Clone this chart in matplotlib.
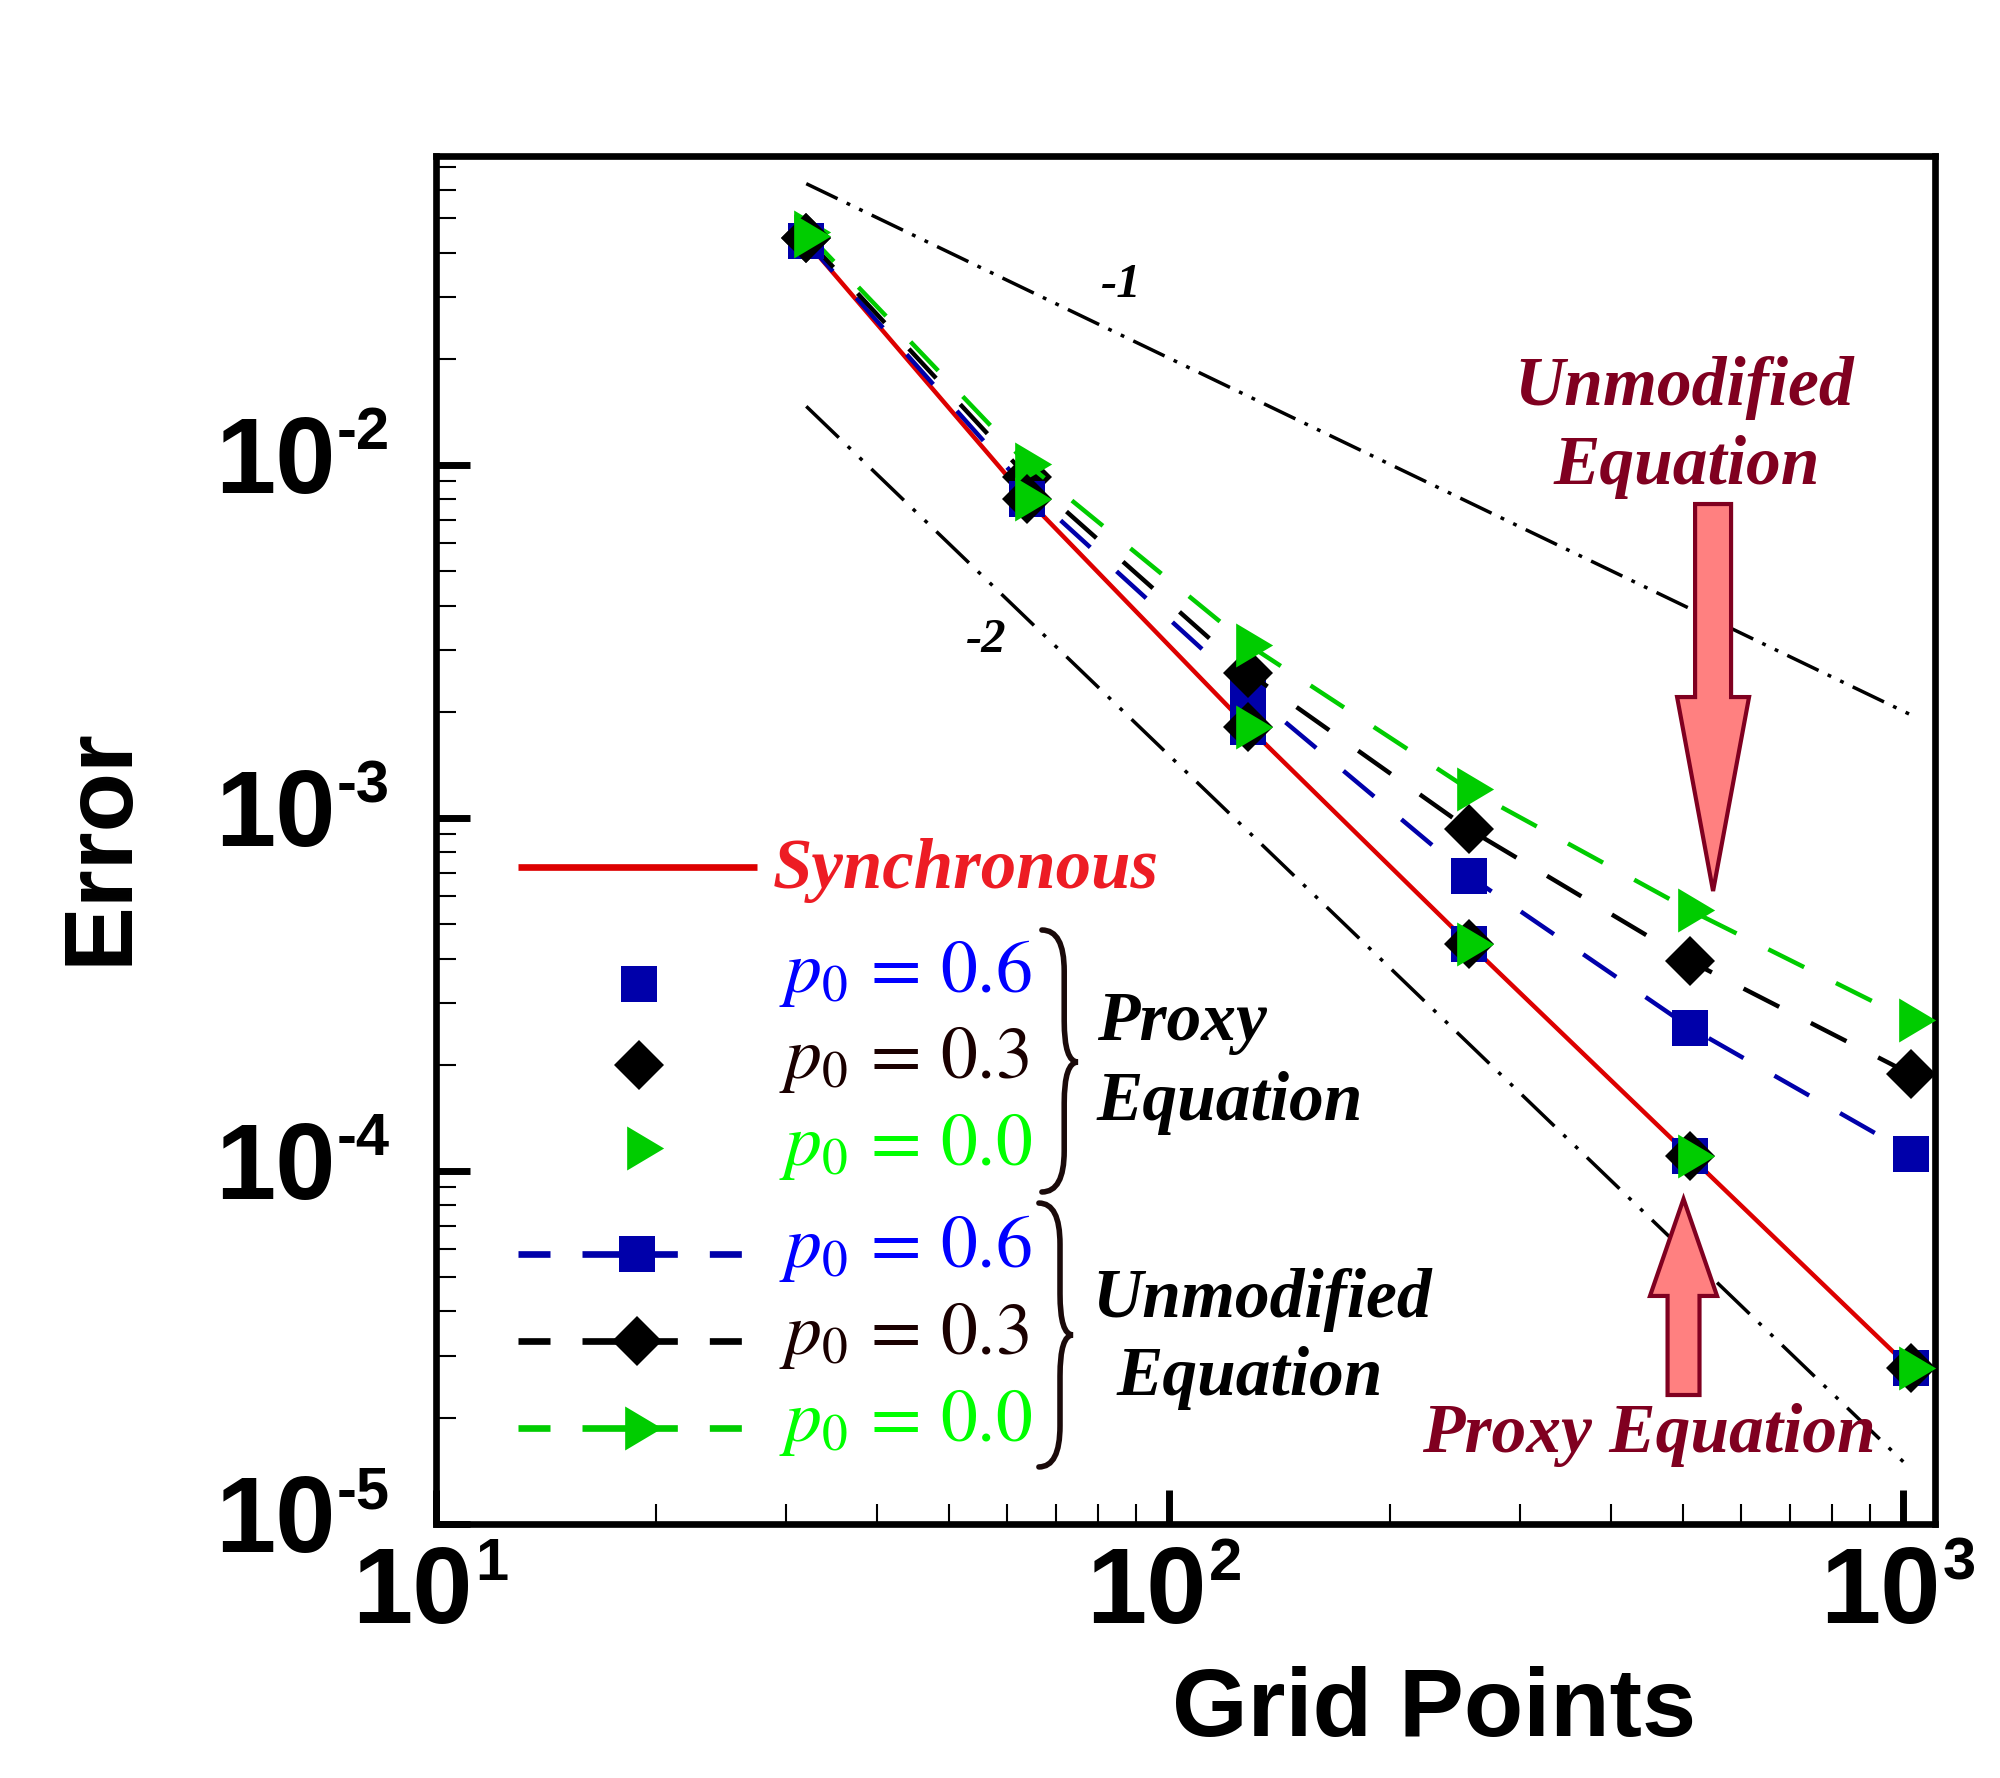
import numpy as np
import matplotlib.pyplot as plt
from matplotlib.patches import FancyArrow, PathPatch
from matplotlib.path import Path
from matplotlib.ticker import LogLocator, NullFormatter

plt.rcParams['mathtext.fontset'] = 'stix'

# ---------------------------------------------------------------- data
grid = [32, 64, 128, 256, 512, 1024]

sync = [0.0430, 0.0080, 0.00181, 4.40e-4, 1.10e-4, 2.75e-5]

proxy_06 = [0.0430, 0.0080, 0.00181, 4.40e-4, 1.10e-4, 2.77e-5]
proxy_03 = [0.0440, 0.0080, 0.00181, 4.40e-4, 1.10e-4, 2.77e-5]
proxy_00 = [0.0445, 0.0080, 0.00181, 4.40e-4, 1.10e-4, 2.77e-5]

unmod_06 = [0.0430, 0.0085, 0.00229, 6.85e-4, 2.55e-4, 1.12e-4]
unmod_03 = [0.0440, 0.00927, 0.00258, 9.29e-4, 3.93e-4, 1.88e-4]
unmod_00 = [0.0456, 0.01007, 0.00310, 1.205e-3, 5.48e-4, 2.67e-4]

slope_x = [32, 1024]
slope1 = [0.0627, 0.00196]
slope2 = [0.01467, 1.43e-5]

xtick_vals = [10, 100, 1000]
xtick_exp = ['1', '2', '3']
ytick_vals = [1e-5, 1e-4, 1e-3, 1e-2]
ytick_exp = ['-5', '-4', '-3', '-2']

p0_labels = [r'$p_0\,=\,0.6$', r'$p_0\,=\,0.3$', r'$p_0\,=\,0.0$']
text_cols = ['#0000ff', '#1a0000', '#00ff00']

# ---------------------------------------------------------------- styles
BLUE = '#0000aa'
GREEN = '#00cc00'
RED = '#dd0000'
MAROON = '#800020'
tri = [(-0.28, -0.5), (0.56, 0.0), (-0.28, 0.5)]
mk = [('s', 25.5, BLUE), ('D', 25.5, 'k'), (tri, 35.5, GREEN)]
serif = dict(family='Liberation Serif', style='italic', weight='bold')
sans = dict(family='Liberation Sans', weight='bold')

fig = plt.figure(figsize=(20, 17.78), dpi=100)
ax = fig.add_axes([0.21775, 0.142857, 0.74975, 0.7694])
ax.set_xscale('log')
ax.set_yscale('log')
ax.set_xlim(10, 1104)
ax.set_ylim(1e-5, 0.0751)

# reference slopes
ax.plot(slope_x, slope1, color='k', lw=2.5,
        dashes=(10, 2.9, 1.1, 2.9, 1.1, 2.9), zorder=1)
ax.plot(slope_x, slope2, color='k', lw=2.5,
        dashes=(13, 3.6, 1.1, 3.6, 1.1, 3.6), zorder=1)
ax.text(0.4573, 0.9057, '-1', transform=ax.transAxes, ha='center', va='center',
        fontsize=35, **serif)
ax.text(0.3672, 0.6462, '-2', transform=ax.transAxes, ha='center', va='center',
        fontsize=35, **serif)

# synchronous
ax.plot(grid, sync, color=RED, lw=3.2, zorder=2)

# unmodified (dashed with markers)
for vals, (m, ms, c) in zip([unmod_06, unmod_03, unmod_00], mk):
    ax.plot(grid, vals, color=c, lw=3.2, dashes=(9, 8), marker=m,
            markersize=ms, markeredgewidth=0, zorder=3)

# proxy (markers only)
for vals, (m, ms, c) in zip([proxy_06, proxy_03, proxy_00], mk):
    ax.plot(grid, vals, ls='none', marker=m, color=c,
            markersize=ms, markeredgewidth=0, zorder=4)

# ---------------------------------------------------------------- axes look
for s in ax.spines.values():
    s.set_linewidth(4.8)
ax.xaxis.set_major_locator(LogLocator(base=10, numticks=10))
ax.yaxis.set_major_locator(LogLocator(base=10, numticks=10))
ax.xaxis.set_minor_locator(LogLocator(base=10, subs=np.arange(2, 10), numticks=20))
ax.yaxis.set_minor_locator(LogLocator(base=10, subs=np.arange(2, 10), numticks=20))
ax.xaxis.set_minor_formatter(NullFormatter())
ax.yaxis.set_minor_formatter(NullFormatter())
ax.tick_params(which='major', direction='in', length=24.5, width=5,
               labelleft=False, labelbottom=False)
ax.tick_params(which='minor', direction='in', length=14.5, width=1.5)

# power-of-ten tick labels, drawn by hand to get the small exponent
for v, e in zip(ytick_vals, ytick_exp):
    ax.annotate('10', xy=(0, v), xycoords=('axes fraction', 'data'),
                xytext=(-72, 0), textcoords='offset points',
                ha='right', va='center', fontsize=78, annotation_clip=False, **sans)
    ax.annotate(e, xy=(0, v), xycoords=('axes fraction', 'data'),
                xytext=(-71, 11.5), textcoords='offset points',
                ha='left', va='baseline', fontsize=43, annotation_clip=False, **sans)
for v, e in zip(xtick_vals, xtick_exp):
    ax.annotate('10', xy=(v, 0), xycoords=('data', 'axes fraction'),
                xytext=(27, -51), textcoords='offset points',
                ha='right', va='center', fontsize=78, annotation_clip=False, **sans)
    ax.annotate(e, xy=(v, 0), xycoords=('data', 'axes fraction'),
                xytext=(28.5, -40), textcoords='offset points',
                ha='left', va='baseline', fontsize=43, annotation_clip=False, **sans)

fig.text(0.051, 0.5242, 'Error', rotation=90, ha='center', va='center',
         fontsize=70, **sans)
fig.text(0.717, 0.0377, 'Grid Points', ha='center', va='center',
         fontsize=70, **sans)

# ---------------------------------------------------------------- legend
T = ax.transAxes
ax.plot([0.0550, 0.2144], [0.4803, 0.4803], color=RED, lw=4.8, transform=T,
        solid_capstyle='butt')
ax.text(0.2251, 0.4649, 'Synchronous', transform=T, color='#ed1c24',
        ha='left', va='baseline', fontsize=51, **serif)

proxy_y = [0.3947, 0.3352, 0.2749]
proxy_lab_y = [0.3889, 0.3260, 0.2624]
for (m, ms, c), yy, ly, lab, tc in zip(mk, proxy_y, proxy_lab_y, p0_labels, text_cols):
    ax.plot([0.1357], [yy], ls='none', marker=m, color=c, markersize=ms,
            markeredgewidth=0, transform=T, clip_on=False)
    ax.text(0.2292, ly, lab, transform=T, color=tc, ha='left', va='baseline',
            fontsize=53)

unmod_y = [0.1974, 0.1338, 0.0702]
unmod_lab_y = [0.1879, 0.1243, 0.0607]
for (m, ms, c), yy, ly, lab, tc in zip(mk, unmod_y, unmod_lab_y, p0_labels, text_cols):
    ax.plot([0.0550, 0.2047], [yy, yy], color=c, lw=4.8, transform=T,
            dashes=(4.8, 4.8, 14.3, 4.8, 4.8, 4.8), dash_capstyle='butt')
    ax.plot([0.1344], [yy], ls='none', marker=m, color=c, markersize=ms,
            markeredgewidth=0, transform=T)
    ax.text(0.2292, ly, lab, transform=T, color=tc, ha='left', va='baseline',
            fontsize=53)


def brace(x0, x1, y0, ym, y1, c=0.03):
    """right-pointing curly brace in axes fraction, x1 is the tip at ym"""
    xm = x0 + 0.62 * (x1 - x0)
    verts = [(x0, y1), (xm, y1), (xm, y1 - c), (xm, ym + c),
             (xm, ym), (x1, ym), (xm, ym), (xm, ym - c),
             (xm, y0 + c), (xm, y0), (x0, y0)]
    codes = [Path.MOVETO, Path.CURVE3, Path.CURVE3, Path.LINETO,
             Path.CURVE3, Path.CURVE3, Path.CURVE3, Path.CURVE3,
             Path.LINETO, Path.CURVE3, Path.CURVE3]
    ax.add_patch(PathPatch(Path(verts, codes), fc='none', ec='#1a0a0a',
                           lw=4, transform=T, capstyle='round'))


brace(0.4044, 0.4284, 0.2427, 0.3377, 0.4342)
brace(0.4024, 0.4251, 0.0417, 0.1382, 0.2346)

ax.text(0.4411, 0.3538, 'Proxy', transform=T, ha='left', va='baseline',
        fontsize=50, **serif)
ax.text(0.4411, 0.2953, 'Equation', transform=T, ha='left', va='baseline',
        fontsize=50, **serif)
ax.text(0.5512, 0.1513, 'Unmodified', transform=T, ha='center', va='baseline',
        fontsize=50, **serif)
ax.text(0.5432, 0.0943, 'Equation', transform=T, ha='center', va='baseline',
        fontsize=50, **serif)

# ---------------------------------------------------------------- callouts
ax.text(0.8326, 0.8180, 'Unmodified', transform=T, color=MAROON, ha='center',
        va='baseline', fontsize=50, **serif)
ax.text(0.8346, 0.7602, 'Equation', transform=T, color=MAROON, ha='center',
        va='baseline', fontsize=50, **serif)
ax.text(0.8093, 0.0526, 'Proxy Equation', transform=T, color=MAROON,
        ha='center', va='baseline', fontsize=50, **serif)

ax.add_patch(FancyArrow(0.8520, 0.7456, 0, 0.4627 - 0.7456, width=0.0240,
                        head_width=0.048, head_length=0.1418,
                        length_includes_head=True, transform=T,
                        fc='#ff8080', ec=MAROON, lw=3, joinstyle='miter'))
ax.add_patch(FancyArrow(0.8323, 0.0943, 0, 0.2376 - 0.0943, width=0.0213,
                        head_width=0.0447, head_length=0.0709,
                        length_includes_head=True, transform=T,
                        fc='#ff8080', ec=MAROON, lw=3, joinstyle='miter'))

fig.savefig('out.png', dpi=100, facecolor='white')
